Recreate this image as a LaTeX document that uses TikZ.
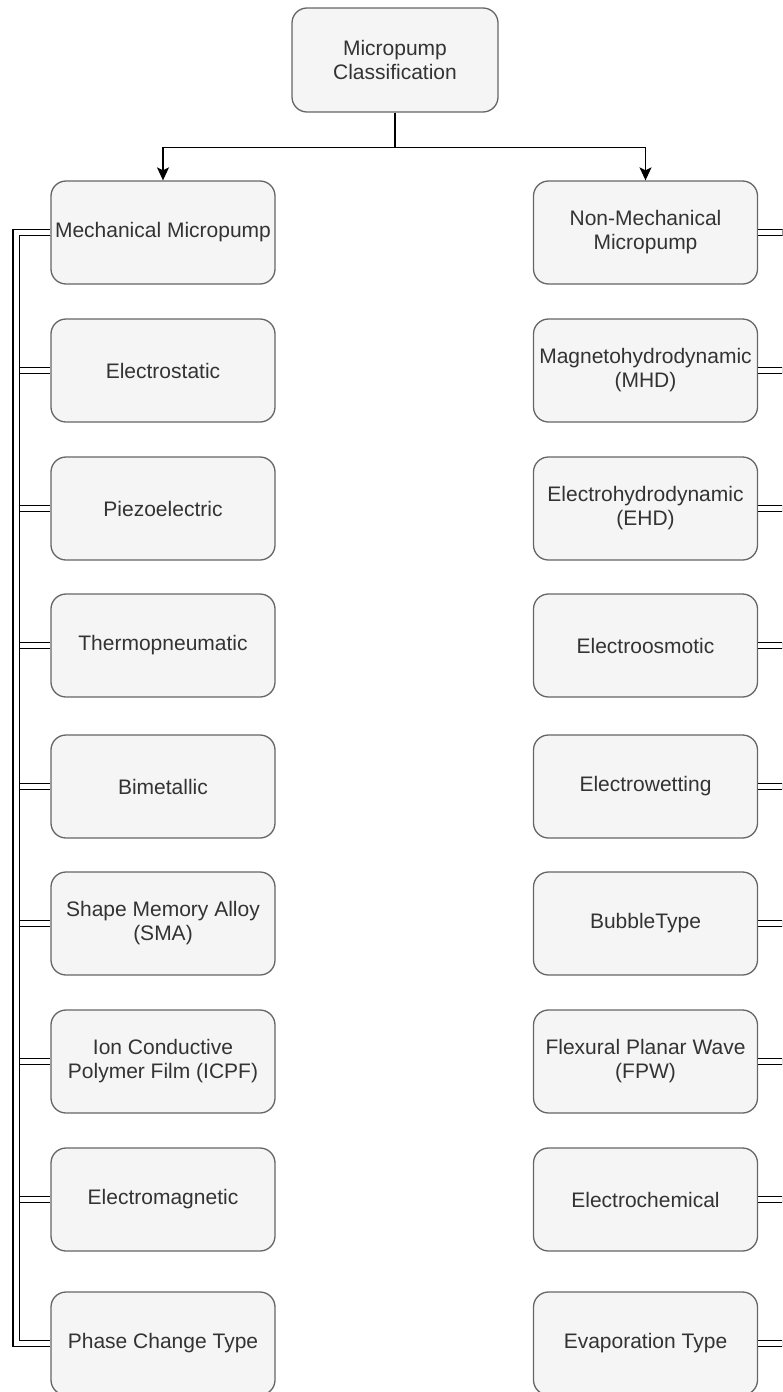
\documentclass[tikz,border=0pt]{standalone}
\usepackage{fontspec}
\setmainfont{Liberation Sans}
\usepackage{xcolor}
\usetikzlibrary{arrows.meta}
\definecolor{boxfill}{HTML}{F5F5F5}
\definecolor{boxline}{HTML}{666666}
\definecolor{boxtext}{HTML}{333333}
\tikzset{
  pump/.style={draw=boxline, fill=boxfill, line width=1.3pt, rounded corners=15pt,
    minimum width=224pt, minimum height=103pt, inner sep=0pt, align=center,
    text=boxtext, font=\fontsize{21}{24}\selectfont},
  link/.style={double, double distance=5.2pt, line width=1.3pt},
}
\begin{document}
\begin{tikzpicture}[x=1pt, y=-1pt, >={Stealth[length=13pt,width=12pt,inset=3pt]}]
  \clip (0,0) rectangle (782,1392);
  \node[pump, minimum width=206pt, minimum height=104pt] (top) at (395,60) {Micropump\\Classification};
  \node[pump] (mech) at (163,232.5) {Mechanical Micropump};
  \node[pump] (elst) at (163,370.5) {Electrostatic};
  \node[pump] (piez) at (163,508.5) {Piezoelectric};
  \node[pump] (thrm) at (163,645.5) {Thermopneumatic};
  \node[pump] (bime) at (163,786.5) {Bimetallic};
  \node[pump] (sma) at (163,923.5) {Shape Memory Alloy\\(SMA)};
  \node[pump] (icpf) at (163,1061.5) {Ion Conductive\\Polymer Film (ICPF)};
  \node[pump] (emag) at (163,1199.5) {Electromagnetic};
  \node[pump] (phas) at (163,1343.5) {Phase Change Type};
  \node[pump] (nonm) at (645.5,232.5) {Non-Mechanical\\Micropump};
  \node[pump] (mhd) at (645.5,370.5) {Magnetohydrodynamic\\(MHD)};
  \node[pump] (ehd) at (645.5,508.5) {Electrohydrodynamic\\(EHD)};
  \node[pump] (eosm) at (645.5,645.5) {Electroosmotic};
  \node[pump] (ewet) at (645.5,786.5) {Electrowetting};
  \node[pump] (bubl) at (645.5,923.5) {BubbleType};
  \node[pump] (fpw) at (645.5,1061.5) {Flexural Planar Wave\\(FPW)};
  \node[pump] (echm) at (645.5,1199.5) {Electrochemical};
  \node[pump] (evap) at (645.5,1343.5) {Evaporation Type};
  \draw[line width=1.3pt, ->] (top.south) -- ++(0,35) -| (mech.north);
  \draw[line width=1.3pt, ->] (top.south) -- ++(0,35) -| (nonm.north);
  \foreach \t in {elst,piez,thrm,bime,sma,icpf,emag,phas}
    \draw[link] (mech.west) -- ++(-34,0) |- (\t.west);
  \foreach \t in {mhd,ehd,eosm,ewet,bubl,fpw,echm,evap}
    \draw[link] (nonm.east) -- ++(34,0) |- (\t.east);
\end{tikzpicture}
\end{document}
